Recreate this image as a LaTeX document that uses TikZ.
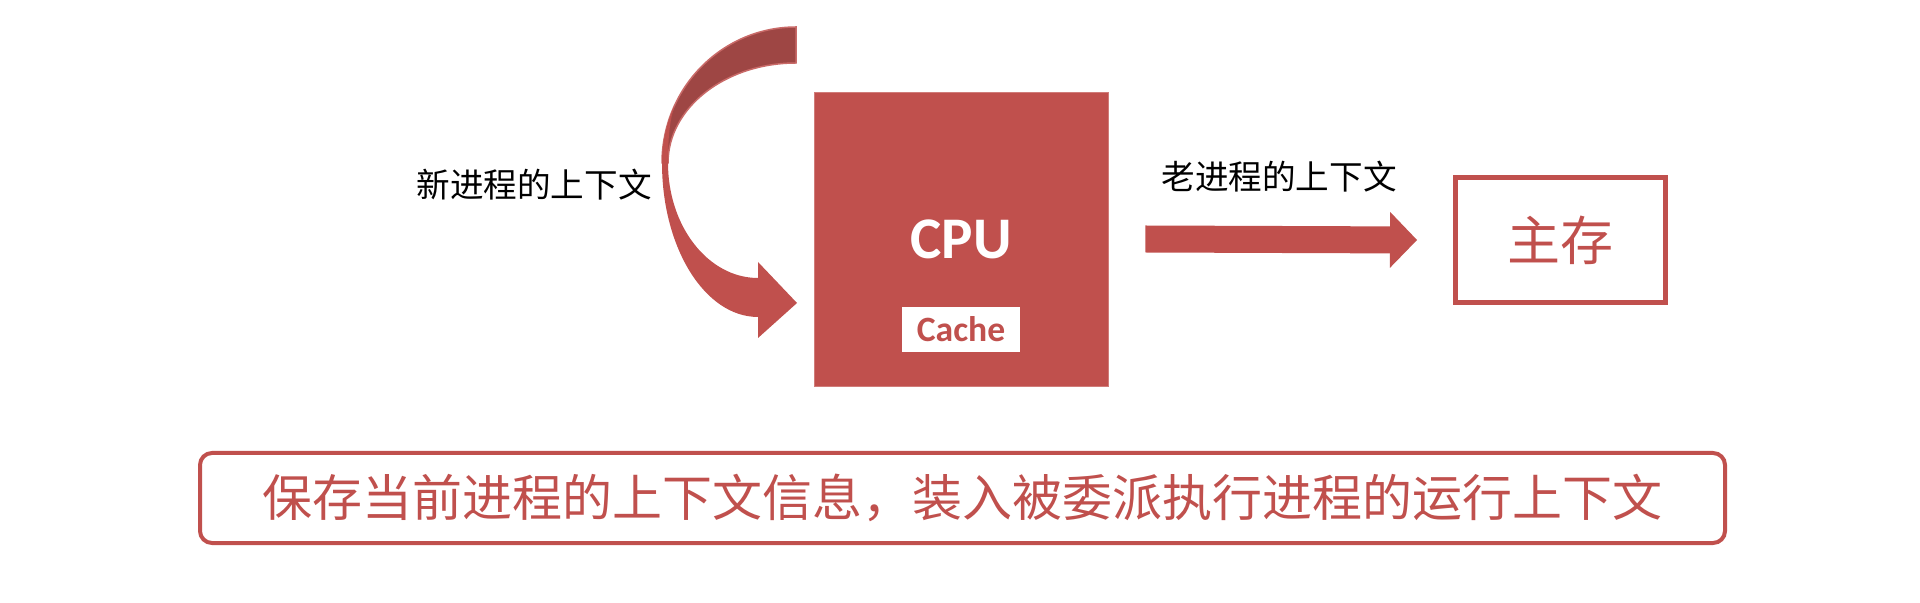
\documentclass[tikz,border=0pt]{standalone}
\usepackage{fontspec}
\setmainfont{Noto Sans CJK SC}
\newfontfamily\calibri{Carlito}
\usetikzlibrary{arrows.meta, calc}
\definecolor{cpured}{RGB}{192,80,77}
\definecolor{cpudark}{RGB}{158,70,68}
\tikzset{
  redbox/.style={draw=cpured, line width=2.5pt, minimum width=105pt, minimum height=62.5pt, inner sep=0pt},
  fatarrow/.style={draw=cpured, line width=13.5pt, -{Triangle[length=13.5pt, width=28pt, line width=0pt]}},
  ctxlabel/.style={font=\fontsize{16.8}{18}\selectfont}
}

\begin{document}
\begin{tikzpicture}[x=0.5pt, y=-0.5pt]
\useasboundingbox (0,0) rectangle (1920,603);
\node [fill=cpured, draw=cpured!75!white, minimum width=147pt, minimum height=147pt, inner sep=0pt] (cpu) at (961,239) {};
\node [text=white, font=\calibri\bfseries\fontsize{29.5}{32}\selectfont] (cpuname) at (961,239) {CPU};
\node [fill=white, minimum width=59pt, minimum height=22.5pt, inner sep=0pt, text=cpured, font=\calibri\bfseries\fontsize{17.8}{19}\selectfont] (cache) at (961,329.5) {Cache};
\node [redbox, text=cpured, font=\fontsize{26.5}{29}\selectfont] (mem) at (1560.5,240) {主存};
\coordinate (oldtail) at ($(cpu.east)+(37,0)$);
\coordinate (oldtip) at ($(mem.west)+(-36,0)$);
\draw [fatarrow] (oldtail) -- (oldtip);
\node [ctxlabel] (oldctx) at (1279,177) {老进程的上下文};
\filldraw [fill=cpudark, draw=cpured!85!white, line width=0.75pt] (796,27) arc[start angle=270, end angle=180, x radius=134, y radius=136] -- (668,163) arc[start angle=180, end angle=270, x radius=128, y radius=100] -- cycle;
\fill [cpured] (674.55,105.5) arc[start angle=205, end angle=180, x radius=134, y radius=136] arc[start angle=180, end angle=90, x radius=96, y radius=154] -- (758,338) -- (797,303) -- (758,262) -- (758,278) arc[start angle=90, end angle=180, x radius=90, y radius=115] .. controls (668,135) and (670,120) .. cycle;
\node [ctxlabel] (newctx) at (534,185) {新进程的上下文};
\node [draw=cpured, line width=2pt, rounded corners=6pt, minimum width=762.5pt, minimum height=45pt, inner sep=0pt, text=cpured, font=\fontsize{25}{28}\selectfont] (switch) at (962.5,498) {保存当前进程的上下文信息，装入被委派执行进程的运行上下文};
\end{tikzpicture}
\end{document}
